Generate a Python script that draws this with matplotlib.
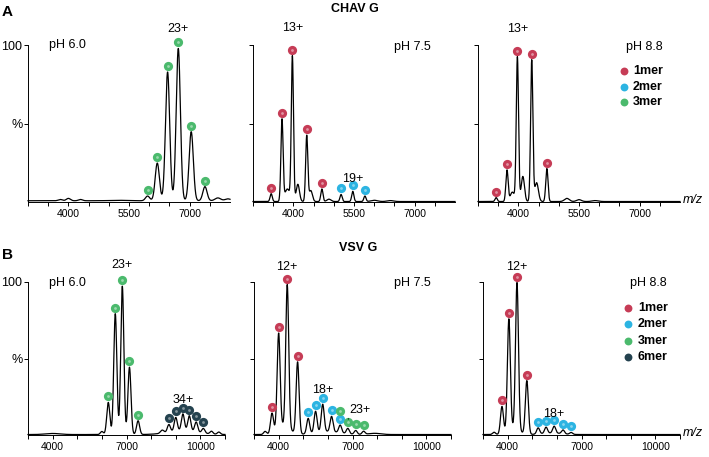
import numpy as np
import matplotlib.pyplot as plt
from matplotlib.transforms import offset_copy

plt.rcParams['font.family'] = ['Liberation Sans', 'DejaVu Sans']

W, H = 709, 457
colors = {'1mer': '#c63c56', '2mer': '#2cb4e2', '3mer': '#4bba6d', '6mer': '#24424f'}

# ---- peak tables (m/z, relative intensity %, species) ----
# CHAV G pH 6.0
cg60_mz = [5960, 6200, 6455, 6720, 7040, 7380]
cg60_h = [3, 24, 82, 97, 44, 9]
cg60_sp = ['3mer'] * 6
cg60_bg_mz = [3800, 4000, 4300, 5200, 7700, 7950]
cg60_bg_h = [0.8, 1.5, 0.8, 0.3, 1.8, 1.2]
cg60_bg_w = [50, 50, 50, 200, 70, 70]

# CHAV G pH 7.5
cg75_mz = [3450, 3718, 3975, 4330, 4705, 5180, 5470, 5770]
cg75_h = [5, 52, 92, 42, 8, 4.5, 6.5, 3.5]
cg75_sp = ['1mer'] * 5 + ['2mer'] * 3
cg75_bg_mz = [3850, 4110, 4430, 4880, 6000, 6400]
cg75_bg_h = [8, 11, 7, 1.5, 0.8, 0.6]
cg75_bg_w = [60, 40, 40, 50, 80, 80]

# CHAV G pH 8.8
cg88_mz = [3450, 3718, 3975, 4330, 4705]
cg88_h = [2.5, 20, 92, 90, 21]
cg88_sp = ['1mer'] * 5
cg88_bg_mz = [3850, 4110, 4450, 5200, 5500, 5900]
cg88_bg_h = [6, 16, 12, 2, 1.2, 0.6]
cg88_bg_w = [50, 40, 45, 60, 60, 80]

# VSV G pH 6.0
vg60_mz = [6260, 6545, 6830, 7120, 7470, 8720, 9000, 9290, 9550, 9830, 10120]
vg60_h = [21, 79, 97, 44, 9, 5, 9, 11, 10, 6.5, 3]
vg60_sp = ['3mer'] * 5 + ['6mer'] * 6
vg60_bg_mz = [4000, 6000, 8450, 9300, 10450, 10750]
vg60_bg_h = [0.7, 2, 2, 2.5, 1.8, 1.5]
vg60_bg_w = [300, 60, 70, 600, 60, 60]

# VSV G pH 7.5
vg75_mz = [3730, 4000, 4350, 4770, 5200, 5500, 5790, 6150, 6500, 6500, 6810, 7130, 7450]
vg75_h = [13, 62, 93, 47, 10, 14, 18, 10, 2.5, 2.5, 3.5, 2.5, 2]
vg75_sp = ['1mer'] * 4 + ['2mer'] * 5 + ['3mer'] * 4
vg75_bg_mz = [3450, 4200, 6000, 7900]
vg75_bg_h = [2, 6, 2, 0.8]
vg75_bg_w = [60, 250, 500, 250]

# VSV G pH 8.8
vg88_mz = [3770, 4050, 4380, 4780, 5240, 5560, 5890, 6250, 6580]
vg88_h = [18, 73, 96, 35, 4, 4, 4.5, 2.5, 1.2]
vg88_sp = ['1mer'] * 4 + ['2mer'] * 5
vg88_bg_mz = [3450, 4250, 5800]
vg88_bg_h = [1.5, 4, 1]
vg88_bg_w = [60, 220, 400]

top_ticks = np.arange(3000, 8000, 500)
top_labels = {4000: '4000', 5500: '5500', 7000: '7000'}
bot_ticks = np.arange(3000, 11001, 1000)
bot_labels = {4000: '4000', 7000: '7000', 10000: '10000'}

fig = plt.figure(figsize=(W / 100, H / 100), dpi=100)


def add_ax(x0, x1, ytop, ybase):
    ax = fig.add_axes([x0 / W, 1 - ybase / H, (x1 - x0) / W, (ybase - ytop) / H])
    ax.patch.set_alpha(0)
    return ax


def panel(ax, xlim, ticks, labels, mz, h, sp, bmz, bh, bw, sig, base, left):
    x = np.linspace(xlim[0], xlim[1], 3000)
    y = np.full_like(x, base)
    for m, v in zip(mz, h):
        y += v * np.exp(-(x - m) ** 2 / (2 * sig ** 2))
    for m, v, w in zip(bmz, bh, bw):
        y += v * np.exp(-(x - m) ** 2 / (2 * w ** 2))
    ax.plot(x, y, color='black', lw=0.9, clip_on=False)
    # dots on top of the peaks, stacked where two species share a peak
    seen = {}
    for m, v, s in zip(mz, h, sp):
        top = np.interp(m, x, y)
        k = seen.get(m, 0)
        seen[m] = k + 1
        tr = offset_copy(ax.transData, fig=fig, x=0, y=6 + 8 * k, units='dots')
        ax.scatter([m], [top], s=44, color=colors[s], transform=tr, clip_on=False, zorder=3, lw=0)
        ax.scatter([m], [top], s=4, color='white', alpha=0.45, transform=tr, clip_on=False, zorder=4, lw=0)
    ax.set_xlim(*xlim)
    ax.set_ylim(0, 100)
    ax.spines['top'].set_visible(False)
    ax.spines['right'].set_visible(False)
    for s in ['left', 'bottom']:
        ax.spines[s].set_linewidth(0.7)
    ax.set_xticks(ticks)
    ax.set_xticklabels([labels.get(int(t), '') for t in ticks])
    ax.set_yticks([50, 100])
    ax.set_yticklabels(['%', '100'] if left else ['', ''])
    ax.tick_params(direction='out', length=3, width=0.7, labelsize=7.5, pad=2)
    ax.tick_params(axis='y', labelsize=9, pad=1)
    return x, y


def charge(ax, m, v, text, dx=0, dy=16, line=False):
    if line:
        ax.annotate(text, xy=(m, v), xycoords='data', xytext=(dx, dy), textcoords='offset pixels',
                    ha='left', va='center', fontsize=9,
                    arrowprops=dict(arrowstyle='-', lw=0.7, color='black', shrinkA=0, shrinkB=7,
                                    relpos=(0, 0.5)))
    else:
        ax.annotate(text, xy=(m, v), xytext=(dx, dy), textcoords='offset pixels',
                    ha='center', va='center', fontsize=9)


a1 = add_ax(28, 230, 45, 202)
a2 = add_ax(253, 455, 45, 202)
a3 = add_ax(478, 680, 45, 202)
b1 = add_ax(28, 225, 282, 435)
b2 = add_ax(254, 451, 282, 435)
b3 = add_ax(483, 680, 282, 435)

panel(a1, (3000, 8000), top_ticks, top_labels, cg60_mz, cg60_h, cg60_sp,
      cg60_bg_mz, cg60_bg_h, cg60_bg_w, 52, 0.8, True)
panel(a2, (3000, 8000), top_ticks, top_labels, cg75_mz, cg75_h, cg75_sp,
      cg75_bg_mz, cg75_bg_h, cg75_bg_w, 27, 0.3, False)
panel(a3, (3000, 8000), top_ticks, top_labels, cg88_mz, cg88_h, cg88_sp,
      cg88_bg_mz, cg88_bg_h, cg88_bg_w, 28, 0.3, False)
panel(b1, (3000, 11000), bot_ticks, bot_labels, vg60_mz, vg60_h, vg60_sp,
      vg60_bg_mz, vg60_bg_h, vg60_bg_w, 62, 0.3, True)
panel(b2, (3000, 11000), bot_ticks, bot_labels, vg75_mz, vg75_h, vg75_sp,
      vg75_bg_mz, vg75_bg_h, vg75_bg_w, 60, 0.3, False)
panel(b3, (3000, 11000), bot_ticks, bot_labels, vg88_mz, vg88_h, vg88_sp,
      vg88_bg_mz, vg88_bg_h, vg88_bg_w, 60, 0.3, False)

charge(a1, 6720, 100, '23+', dy=16)
charge(a2, 3975, 100, '13+', dy=17)
charge(a2, 5470, 7, '19+', dy=12)
charge(a3, 3975, 100, '13+', dy=16)
charge(b1, 6830, 100, '23+', dy=17)
charge(b1, 9290, 13.5, '34+', dy=14)
charge(b2, 4350, 100, '12+', dy=15)
charge(b2, 5790, 20, '18+', dy=14)
charge(b2, 6810, 4, '23+', dx=1, dy=19, line=True)
charge(b3, 4380, 100, '12+', dy=15)
charge(b3, 5890, 5, '18+', dy=13)

# overlay in pixel coordinates for the free text and legends
ov = fig.add_axes([0, 0, 1, 1], zorder=10)
ov.set_xlim(0, W)
ov.set_ylim(H, 0)
ov.axis('off')

ov.text(2, 12, 'A', fontsize=11, fontweight='bold', va='center')
ov.text(2, 255, 'B', fontsize=11, fontweight='bold', va='center')
ov.text(355, 9, 'CHAV G', fontsize=9, fontweight='bold', ha='center', va='center')
ov.text(358, 248, 'VSV G', fontsize=9, fontweight='bold', ha='center', va='center')

ph_x = [67, 412, 644, 67, 412, 648]
ph_y = [45, 47, 47, 283, 283, 283]
ph_txt = ['pH 6.0', 'pH 7.5', 'pH 8.8', 'pH 6.0', 'pH 7.5', 'pH 8.8']
for px, py, t in zip(ph_x, ph_y, ph_txt):
    ov.text(px, py, t, fontsize=9, ha='center', va='center')

ov.text(683, 200, 'm/z', fontsize=9, style='italic', va='center')
ov.text(683, 433, 'm/z', fontsize=9, style='italic', va='center')

leg_top = ['1mer', '2mer', '3mer']
leg_bot = ['1mer', '2mer', '3mer', '6mer']
for i, s in enumerate(leg_top):
    yy = 71 + 15.5 * i
    ov.scatter([624], [yy], s=32, color=colors[s], lw=0)
    ov.text(633, yy, s, fontsize=9, fontweight='bold', va='center')
for i, s in enumerate(leg_bot):
    yy = 308 + 16.3 * i
    ov.scatter([628], [yy], s=32, color=colors[s], lw=0)
    ov.text(638, yy, s, fontsize=9, fontweight='bold', va='center')

fig.savefig('out.png', dpi=100)
